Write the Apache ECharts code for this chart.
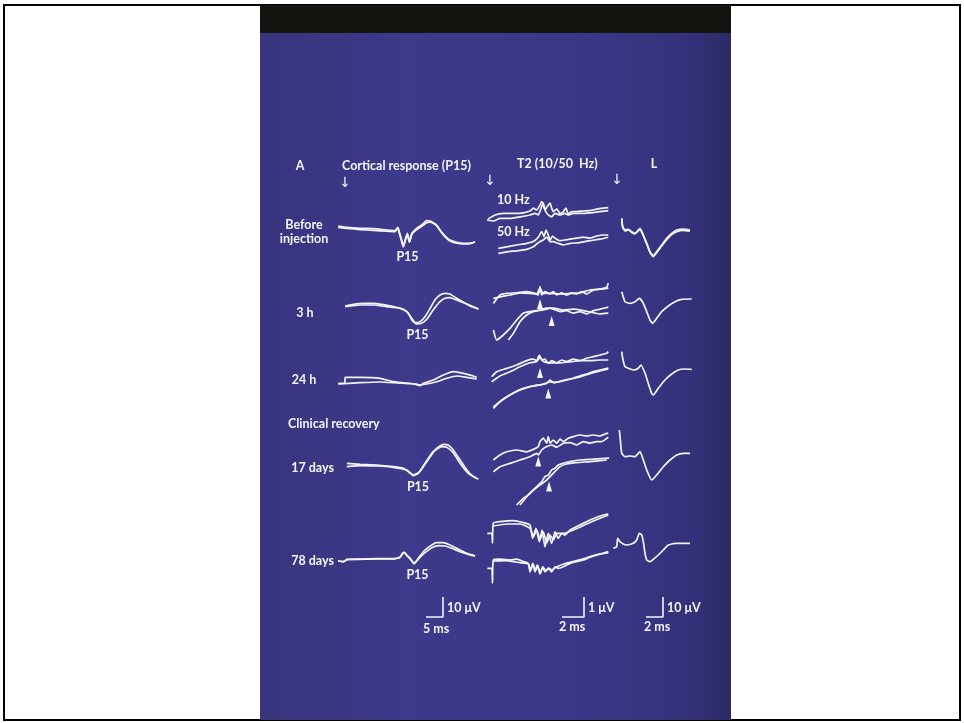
<!DOCTYPE html>
<html><head><meta charset="utf-8">
<script src="https://cdn.jsdelivr.net/npm/echarts@6/dist/echarts.min.js"></script>
<style>html,body{margin:0;padding:0;background:#fff}#c{width:964px;height:723px}</style>
</head><body><div id="c"></div>
<script>
// ---------- DATA: [time (ms), amplitude (µV)] ----------
// Cortical response (P15)
const cortBefore1 = [[0.1,1],[2.6,0.35],[6.5,-0.15],[10.4,-0.35],[14.3,-1],[16.8,-1.35],[17.6,0.35],[18,-1.85],[18.7,-6],[19.2,-9],[19.9,-5.15],[20.4,-2.65],[21,-6.85],[21.7,-2.65],[22.6,-1],[23.6,0.35],[24.6,1.5],[26.1,3.65],[27.1,3.5],[28,2.65],[29,1.5],[30,-1],[31.5,-4],[32.9,-6],[34.9,-7.15],[36.9,-7.65],[38.8,-7.65],[40.3,-6.85]];
const cortBefore2 = [[0,0.3],[2.6,-0.2],[6.5,-0.8],[10.4,-1.2],[14.3,-1.6],[16.8,-1.8],[17.6,0],[18,-2.2],[18.7,-6.5],[19.2,-9.5],[19.9,-5.5],[20.4,-3],[21,-7.2],[21.7,-3.2],[22.6,-1.5],[23.6,-0.3],[24.6,0.8],[26.1,2.6],[27.1,2.9],[28,2.4],[29,1.2],[30,-1.3],[31.5,-4.5],[32.9,-6.5],[34.9,-7.6],[36.9,-8],[38.8,-7.8],[40.3,-7]];
const cort3h1 = [[2.1,0],[4.5,0.85],[7.4,1.35],[10.4,1.35],[13.3,0.65],[16.3,-0.35],[19.2,-1.65],[20.7,-3.65],[21.7,-7],[22.6,-8.35],[24.1,-7.85],[25.6,-5.35],[27.1,-1.15],[28.5,3],[30,5.5],[31.5,6.35],[32.9,6],[34.9,3.85],[36.9,1.85],[38.8,0],[41.3,-1.5]];
const cort3h2 = [[2.1,-0.35],[6.5,0.5],[10.4,0.5],[14.3,-0.35],[18.2,-1.15],[20.2,-2.85],[21.7,-6.15],[23.1,-9],[24.6,-8.65],[26.1,-6.65],[28,-2],[30,2.15],[31.5,3.85],[32.9,4.15],[34.9,3],[37.4,1.35],[39.8,-0.35],[41.3,-1.5]];
const cort24h1 = [[0.1,-1.65],[2,-1.6],[2.1,1.35],[6.5,1.35],[12.4,0.85],[16.3,-0.85],[20.2,-1.65],[23.1,-2],[24.1,-2.85],[25.1,-1.65],[28,0],[31,2.5],[33.9,4.15],[36.9,3.35],[39.8,2],[40.8,1.35]];
const cort24h2 = [[0.1,-2],[6.5,-1.35],[12.4,-1],[16.3,-1.35],[22.2,-2],[23.6,-2.5],[26.1,-2],[29,-0.85],[32,0.85],[34.9,2],[37.9,1.35],[40.8,0.5]];
const cort17d1 = [[2.6,0.35],[6.5,-0.15],[11.4,-0.5],[16.3,-1.35],[19.2,-2.15],[20.7,-3.85],[22.2,-5.85],[23.6,-4.65],[25.1,-1.35],[27.1,3.65],[29,7.85],[31,9.85],[32.4,9.5],[33.9,7],[35.9,2],[37.9,-3],[39.8,-6.35],[41.3,-7.65]];
const cort17d2 = [[2.6,-1.35],[6.5,-0.85],[11.4,-1],[16.3,-1.65],[20.2,-3],[22.2,-5.5],[23.9,-4],[25.6,0.35],[28,6.15],[30.5,8.65],[32,8.35],[33.9,5.65],[35.9,0.35],[38.3,-4.65],[40.8,-7.15]];
const cort78d1 = [[0,-0.5],[1.6,-0.85],[2.7,0.35],[6.5,0.5],[11.4,0.65],[16.3,0.65],[18.2,1.35],[19,3.35],[19.5,3.85],[20.2,2.5],[21.2,0.85],[22.4,-1.65],[23.1,-0.35],[24.1,2],[25.6,5],[27.6,7.5],[29,8.65],[31,8.65],[32.9,7.5],[34.9,5.85],[36.9,4.15],[38.8,2.85],[40.3,2.15]];
const cort78d2 = [[0,-0.5],[1.6,-0.85],[2.7,0.2],[6.5,0.3],[11.4,0.5],[16.3,0.5],[18.2,1.2],[19,3.2],[19.5,3.7],[20.2,2.3],[21.2,0.6],[22.4,-1.9],[23.1,-0.6],[24.1,1.35],[25.6,3.65],[27.6,6.15],[29.6,7.15],[31.5,7],[33.5,5.85],[35.9,4.15],[38.8,2.5],[40.3,2]];

// T2 (10/50 Hz), two sweeps each
const t2Before10a = [[0.1,-0.35],[0.73,-0.15],[1.48,-0.07],[2.39,-0.07],[3.3,-0.04],[3.91,0.05],[4.21,0.19],[4.52,0.1],[4.82,0.35],[4.97,0.52],[5.12,0.35],[5.27,0.1],[5.43,0.24],[5.73,0.44],[5.88,0.19],[6.03,0.02],[6.34,0.14],[6.64,-0.07],[6.94,0.02],[7.18,0.19],[7.39,-0.1],[7.7,0.02],[8.15,0.02],[8.75,0.05],[9.36,0.07],[9.97,0.14],[10.57,0.19],[11.03,0.22]];
const t2Before10b = [[0,-0.4],[0.58,-0.45],[1.18,-0.32],[2.09,-0.32],[3,-0.24],[3.91,-0.15],[4.36,-0.07],[4.66,-0.15],[4.97,0.27],[5.12,0.44],[5.27,0.1],[5.57,-0.15],[5.88,-0.24],[6.18,-0.07],[6.64,-0.15],[7.09,-0.07],[7.39,-0.15],[7.85,-0.07],[8.45,-0.07],[9.36,-0.04],[10.27,0.02],[11.03,0.07]];
const t2Before50a = [[1.03,-0.27],[1.79,-0.19],[2.7,-0.1],[3.61,-0.02],[4.21,0.07],[4.66,0.29],[4.97,0.57],[5.18,0.32],[5.36,0.65],[5.57,0.4],[5.73,0.15],[5.97,0.35],[6.18,0.24],[6.64,0.12],[7.09,0.15],[7.55,0.19],[8.15,0.24],[8.75,0.29],[9.36,0.24],[9.97,0.35],[10.57,0.4],[11.03,0.4]];
const t2Before50b = [[1.03,-0.52],[1.79,-0.44],[2.7,-0.39],[3.61,-0.32],[4.21,-0.19],[4.52,-0.05],[4.82,0.07],[5.12,0.15],[5.43,0.29],[5.73,0.07],[6.03,0.07],[6.48,-0.02],[6.94,-0.1],[7.55,-0.02],[8.45,0.02],[9.36,0.12],[10.27,0.19],[11.03,0.29]];
const t23h10a = [[0.58,-0.57],[1.18,-0.15],[1.79,-0.07],[2.7,-0.04],[3.61,0.02],[4.36,-0.07],[4.66,-0.15],[4.82,0.27],[4.97,-0.15],[5.27,0.02],[5.73,-0.1],[6.03,0.02],[6.34,-0.15],[6.79,-0.04],[7.24,-0.15],[7.7,-0.04],[8.15,-0.1],[8.61,0.02],[9.06,-0.1],[9.67,0.1],[10.27,0.14],[10.88,0.24],[11.03,0.44]];
const t23h10b = [[0.58,-0.32],[1.18,-0.24],[2.09,-0.15],[3,-0.04],[3.91,-0.07],[4.52,-0.1],[4.82,0.19],[5.12,-0.07],[5.73,-0.07],[6.64,-0.1],[7.55,-0.07],[8.45,-0.04],[9.36,0.1],[10.27,0.14],[11.03,0.19]];
const t23h50a = [[0.58,-0.7],[0.88,-1.2],[1.48,-0.95],[2.09,-0.62],[2.7,-0.2],[3.3,0.14],[3.91,0.22],[4.52,0.27],[5.12,0.3],[5.43,0.34],[5.73,0.39],[6.03,0.34],[6.64,0.22],[7.24,0.27],[7.85,0.14],[8.45,0.22],[9.06,0.1],[9.67,0.27],[10.27,0.34],[11.03,0.44]];
const t23h50b = [[1.94,-1.2],[2.39,-0.87],[3,-0.29],[3.61,0.05],[4.21,0.22],[4.82,0.3],[5.43,0.39],[6.03,0.39],[6.94,0.3],[7.85,0.34],[8.75,0.27],[9.67,0.17],[10.27,0.1],[11.03,0.14]];
const t224h10a = [[0.43,-0.74],[0.88,-0.49],[1.79,-0.32],[2.7,-0.15],[3.61,0.07],[4.21,0.14],[4.52,0.07],[4.76,0.35],[4.97,0.1],[5.27,0.14],[5.57,-0.07],[5.88,0.07],[6.34,-0.04],[6.79,0.1],[7.24,0.02],[7.85,0.14],[8.45,0.07],[9.06,0.19],[9.67,0.27],[10.27,0.35],[10.88,0.44],[11.03,0.52]];
const t224h10b = [[0.43,-0.99],[1.18,-0.7],[2.09,-0.49],[3,-0.24],[3.91,-0.04],[4.52,0.02],[4.82,0.24],[5.12,0.02],[5.73,-0.04],[6.64,-0.04],[7.55,0],[8.45,0.07],[9.36,0.07],[10.27,0.1],[11.03,0.1]];
const t224h50a = [[0.58,-1.02],[1.18,-0.69],[2.09,-0.35],[3,-0.1],[3.91,0.07],[4.82,0.15],[5.43,0.24],[5.73,0.4],[6.03,0.27],[6.64,0.32],[7.24,0.4],[7.85,0.49],[8.45,0.6],[9.06,0.7],[9.67,0.82],[10.27,0.9],[11.03,0.99]];
const t224h50b = [[0.58,-0.95],[1.48,-0.55],[2.39,-0.25],[3.3,-0.02],[4.21,0.1],[5.12,0.2],[5.73,0.3],[6.18,0.28],[6.79,0.36],[7.55,0.45],[8.45,0.55],[9.36,0.72],[10.27,0.85],[11.03,0.95]];
const t217d10a = [[0.58,-0.6],[1.18,-0.35],[1.79,-0.19],[2.7,-0.1],[3.61,-0.19],[4.21,-0.07],[4.66,0.07],[4.82,0.32],[5.12,0.49],[5.43,0.24],[5.57,0.57],[5.73,0.24],[6.03,0.4],[6.34,0.24],[6.64,0.44],[6.94,0.32],[7.39,0.49],[7.85,0.57],[8.45,0.65],[9.06,0.6],[9.67,0.65],[10.27,0.6],[10.73,0.7],[11.03,0.74]];
const t217d10b = [[0.58,-1.19],[1.18,-0.94],[2.09,-0.77],[3,-0.6],[3.91,-0.44],[4.52,-0.27],[4.66,-0.35],[4.97,-0.1],[5.43,0.07],[5.88,0.15],[6.34,0.04],[6.94,0.24],[7.55,0.27],[8.15,0.15],[8.75,0.32],[9.36,0.24],[9.97,0.32],[10.43,0.32],[11.03,0.54]];
const t217d50a = [[2.7,-1.25],[3.3,-0.92],[3.91,-0.67],[4.36,-0.42],[4.66,-0.25],[4.97,-0.09],[5.27,0.17],[5.57,0.25],[5.88,0.5],[6.18,0.59],[6.48,0.75],[6.94,0.84],[7.55,0.92],[8.45,1],[9.67,1.04],[11.1,1.09]];
const t217d50b = [[3,-1.25],[3.61,-0.84],[4.21,-0.5],[4.82,-0.25],[5.43,0],[6.03,0.34],[6.64,0.67],[7.24,0.8],[8.15,0.87],[9.36,0.92],[10.88,1]];
const t278d10a = [[0.03,-0.27],[0.43,-0.27],[0.5,-0.75],[0.57,0.24],[1.18,0.32],[2.39,0.37],[3.3,0.27],[3.91,0.15],[4.15,-0.52],[4.45,-0.02],[4.76,-0.69],[5,-0.1],[5.27,-0.94],[5.57,-0.27],[5.88,-0.77],[6.18,-0.19],[6.48,-0.52],[6.79,-0.27],[7.09,-0.35],[7.55,-0.1],[8.15,0.07],[8.75,0.24],[9.36,0.4],[9.97,0.54],[10.57,0.65],[11.03,0.7]];
const t278d10b = [[0.57,0.1],[1.79,0.2],[3,0.2],[3.91,-0.02],[4.21,-0.44],[4.52,-0.1],[4.82,-0.57],[5.12,-0.19],[5.43,-0.74],[5.73,-0.35],[6.03,-0.6],[6.34,-0.27],[6.94,-0.27],[7.85,-0.1],[9.06,0.2],[10.27,0.49],[11.03,0.65]];
const t278d50a = [[0.03,-0.27],[0.43,-0.27],[0.5,-1],[0.57,0.15],[1.18,0.19],[2.09,0.15],[2.7,0.19],[3.3,0.07],[3.76,-0.02],[3.91,-0.44],[4.15,-0.02],[4.36,-0.44],[4.57,-0.1],[4.82,-0.55],[5.06,-0.19],[5.27,-0.44],[5.57,-0.27],[5.88,-0.44],[6.18,-0.19],[6.48,-0.27],[6.94,-0.19],[7.55,-0.02],[8.15,0.07],[8.75,0.15],[9.36,0.29],[9.97,0.4],[10.57,0.49],[11.03,0.57]];
const t278d50b = [[0.57,0.1],[1.79,0.12],[3,0.02],[3.76,-0.05],[3.95,-0.38],[4.2,-0.05],[4.4,-0.4],[4.6,-0.12],[4.85,-0.5],[5.1,-0.2],[5.35,-0.4],[5.6,-0.25],[5.9,-0.35],[6.3,-0.2],[7,-0.05],[8,0.1],[9,0.25],[10,0.42],[11.03,0.52]];
// arrowheads marking latency on T2 traces (ms, µV)
const t2ArrowMs = [4.82, 5.88, 4.82, 5.57, 4.66, 5.64];
const t2ArrowUV = [-0.6, -0.25, -0.55, -0.28, -0.68, -0.33];

// L
const lBefore1 = [[0.44,5.85],[0.55,1.65],[0.82,0],[1.21,0.35],[1.61,-0.85],[2.0,-1.65],[2.39,0],[2.59,0.85],[2.98,-2.5],[3.38,-6.65],[3.76,-10.85],[4.15,-13],[4.55,-10.85],[5.14,-7.5],[5.73,-4.15],[6.32,-1.65],[6.91,0],[7.68,0.5],[8.47,0]];
const lBefore2 = [[0.44,5.5],[0.55,1.3],[0.82,-0.5],[1.21,0],[1.61,-1.2],[2.0,-2],[2.39,-0.4],[2.59,0.4],[2.98,-2.9],[3.38,-7],[3.76,-11.2],[4.15,-13.3],[4.55,-11.3],[5.14,-8],[5.73,-4.8],[6.32,-2.3],[6.91,-0.8],[7.68,-0.2],[8.47,-0.6]];
const l3h = [[0.44,5.65],[0.55,4],[0.82,0.65],[1.41,-0.15],[2.0,0.65],[2.51,2.35],[2.98,-0.15],[3.38,-4.35],[3.76,-8.5],[4.08,-10.15],[4.55,-7.65],[5.14,-4.35],[5.92,-1.5],[6.71,0.65],[7.49,1.85],[8.67,2]];
const l24h = [[0.44,9.15],[0.55,5.85],[0.82,1.65],[1.21,0.85],[1.8,0],[2.39,0.85],[2.71,2.5],[3.18,-1.65],[3.56,-6.65],[3.96,-11.65],[4.15,-12.5],[4.74,-9.15],[5.53,-5],[6.32,-2],[7.09,0],[7.88,0.5],[8.67,0.35]];
const l17d = [[0.15,12.5],[0.24,9.15],[0.44,0.85],[0.82,-0.85],[1.41,-0.5],[2.0,-0.85],[2.39,0.85],[2.59,1.65],[2.98,-2.5],[3.38,-7.5],[3.96,-12.5],[4.55,-10],[5.33,-5.85],[6.12,-2.5],[6.91,0],[7.68,0.85],[8.47,0.85]];
const l78d = [[-0.55,-1.65],[-0.15,-0.85],[-0.04,3.35],[0.24,1.65],[0.62,0.5],[1.02,0],[1.8,0.85],[2.2,2.5],[2.51,5.85],[2.79,5],[2.98,1.65],[3.18,-4.15],[3.38,-7.5],[3.76,-8.35],[4.15,-7.15],[4.74,-5],[5.33,-2.5],[5.92,0],[6.71,0.85],[7.49,0.85],[8.47,0.85]];

// calibration bars: [ms, µV] for cortical, T2, L
const scaleBarMs = [5, 2, 2];
const scaleBarUV = [10, 1, 10];
const scaleBarLabelsV = ['10 \u03bcV', '1 \u03bcV', '10 \u03bcV'];
const scaleBarLabelsH = ['5 ms', '2 ms', '2 ms'];

// ---------- LAYOUT ----------
const CORT = {left:338, width:142.8, x:[0,42], y:[-20,20], height:80};
const T2 = {left:487, width:123.2, x:[0,11.2], y:[-2,2], height:80};
const LL = {left:611.2, width:82.45, x:[-0.8,8.9], y:[-20,20], height:80};
const panels = [
  {...CORT, top:188, traces:[cortBefore1, cortBefore2]},
  {...CORT, top:266, traces:[cort3h1, cort3h2]},
  {...CORT, top:340, traces:[cort24h1, cort24h2]},
  {...CORT, top:424, traces:[cort17d1, cort17d2]},
  {...CORT, top:520, traces:[cort78d1, cort78d2]},
  {...T2, top:172, traces:[t2Before10a, t2Before10b]},
  {...T2, top:203, traces:[t2Before50a, t2Before50b]},
  {...T2, top:252, traces:[t23h10a, t23h10b], arrow:0},
  {...T2, top:276, traces:[t23h50a, t23h50b], arrow:1},
  {...T2, top:322, traces:[t224h10a, t224h10b], arrow:2},
  {...T2, top:348, traces:[t224h50a, t224h50b], arrow:3},
  {...T2, top:408, traces:[t217d10a, t217d10b], arrow:4},
  {...T2, top:440, traces:[t217d50a, t217d50b], arrow:5},
  {...T2, top:488, traces:[t278d10a, t278d10b]},
  {...T2, top:523, traces:[t278d50a, t278d50b]},
  {...LL, top:190, traces:[lBefore1, lBefore2]},
  {...LL, top:263, traces:[l3h]},
  {...LL, top:330, traces:[l24h]},
  {...LL, top:415, traces:[l17d]},
  {...LL, top:505, traces:[l78d]}
];
// calibration bar grids (px per ms / px per µV match the panel columns)
const barGeo = [
  {corner:443, pxPerMs:3.4, pxPerUV:2},
  {corner:584, pxPerMs:11, pxPerUV:20},
  {corner:663, pxPerMs:8.5, pxPerUV:2}
];

const WHITE = '#f4f4f8';
const grids = [], xAxes = [], yAxes = [], series = [];
panels.forEach((p, i) => {
  grids.push({left:p.left, top:p.top, width:p.width, height:p.height, containLabel:false});
  xAxes.push({type:'value', gridIndex:i, min:p.x[0], max:p.x[1], show:false});
  yAxes.push({type:'value', gridIndex:i, min:p.y[0], max:p.y[1], show:false});
  p.traces.forEach(tr => series.push({
    type:'line', xAxisIndex:i, yAxisIndex:i, data:tr, symbol:'none', smooth:0.15,
    clip:false, silent:true, lineStyle:{color:WHITE, width:1.7}
  }));
  if (p.arrow !== undefined) {
    series.push({type:'scatter', xAxisIndex:i, yAxisIndex:i, silent:true,
      data:[[t2ArrowMs[p.arrow], t2ArrowUV[p.arrow]]], symbol:'triangle', symbolSize:[6,10],
      itemStyle:{color:WHITE, opacity:1}});
  }
});
scaleBarMs.forEach((ms, k) => {
  const g = barGeo[k], i = grids.length;
  const w = ms * g.pxPerMs, h = scaleBarUV[k] * g.pxPerUV;
  grids.push({left:g.corner - w, top:617 - h, width:w, height:h});
  xAxes.push({type:'value', gridIndex:i, min:0, max:ms, show:false});
  yAxes.push({type:'value', gridIndex:i, min:0, max:scaleBarUV[k], show:false});
  series.push({type:'line', xAxisIndex:i, yAxisIndex:i, symbol:'none', clip:false, silent:true,
    data:[[0,0],[ms,0],[ms,scaleBarUV[k]]], lineStyle:{color:WHITE, width:1.6}});
});

// ---------- TEXT ----------
const F = 'bold 12.5px Lato, "Open Sans", sans-serif';
const ARW = '14px "DejaVu Sans"';
function T(text, x, y, align, font) {
  return {type:'text', z:50, silent:true, style:{text, x, y, fill:WHITE, font:font||F,
    textAlign:align||'center', textVerticalAlign:'middle'}};
}
const labels = [
  T('A', 300, 166), T('Cortical response (P15)', 342, 166, 'left'),
  T('\u2193', 345, 183, 'center', ARW),
  T('\u2193', 490, 181, 'center', ARW),
  T('\u2193', 617, 180, 'center', ARW),
  T('T2 (10/50  Hz)', 517, 164, 'left'), T('L', 654, 164),
  T('10 Hz', 497, 200, 'left'), T('50 Hz', 497, 232, 'left'),
  T('Before', 304, 225), T('injection', 304, 239),
  T('P15', 407.5, 257), T('3 h', 305, 313), T('P15', 417.5, 335),
  T('24 h', 304, 380), T('Clinical recovery', 288, 424, 'left'),
  T('17 days', 312.5, 468), T('P15', 418, 487),
  T('78 days', 312.5, 561), T('P15', 417.5, 575),
  T(scaleBarLabelsV[0], 447, 608, 'left'), T(scaleBarLabelsH[0], 436, 629),
  T(scaleBarLabelsV[1], 588, 608, 'left'), T(scaleBarLabelsH[1], 572, 627),
  T(scaleBarLabelsV[2], 667, 608, 'left'), T(scaleBarLabelsH[2], 657, 627)
];

const chart = echarts.init(document.getElementById('c'), null, {renderer:'canvas'});
chart.setOption({
  animation:false,
  backgroundColor:'#ffffff',
  graphic:{elements:[
    {type:'rect', z:0, silent:true, shape:{x:4, y:5, width:956, height:715},
      style:{fill:'#ffffff', stroke:'#000', lineWidth:2}},
    {type:'rect', z:1, silent:true, shape:{x:260, y:5, width:471, height:715},
      style:{fill:new echarts.graphic.LinearGradient(0,0,1,0,[
        {offset:0, color:'#38347d'},{offset:0.3, color:'#3d398b'},{offset:0.7, color:'#3a3788'},
        {offset:0.92, color:'#34317a'},{offset:1, color:'#2c2a63'}])}},
    {type:'rect', z:2, silent:true, shape:{x:260, y:5, width:471, height:28},
      style:{fill:'#141511'}},
    ...labels
  ]},
  grid:grids, xAxis:xAxes, yAxis:yAxes, series
});
</script>
</body></html>
